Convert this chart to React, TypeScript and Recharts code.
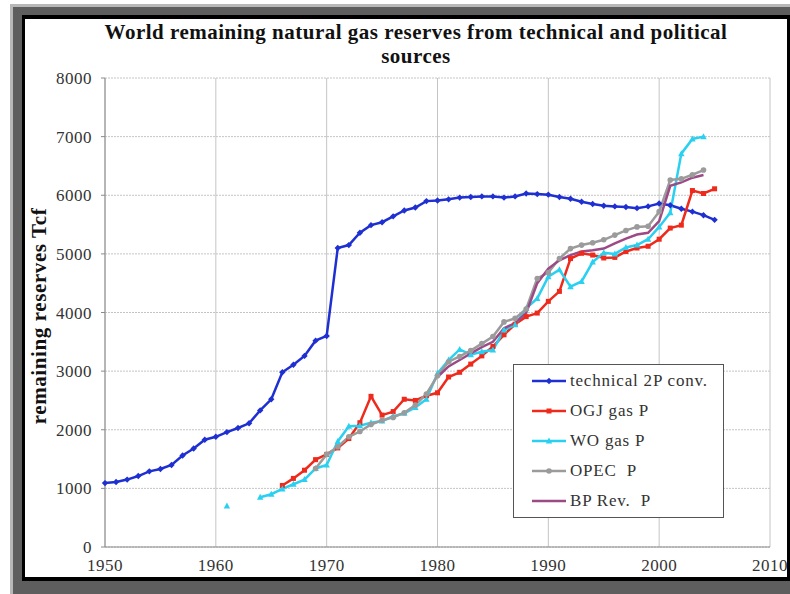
import React from 'react';
import { LineChart, Line, XAxis, YAxis, CartesianGrid } from 'recharts';

const years = [
  1950, 1951, 1952, 1953, 1954, 1955, 1956, 1957, 1958, 1959,
  1960, 1961, 1962, 1963, 1964, 1965, 1966, 1967, 1968, 1969,
  1970, 1971, 1972, 1973, 1974, 1975, 1976, 1977, 1978, 1979,
  1980, 1981, 1982, 1983, 1984, 1985, 1986, 1987, 1988, 1989,
  1990, 1991, 1992, 1993, 1994, 1995, 1996, 1997, 1998, 1999,
  2000, 2001, 2002, 2003, 2004, 2005,
];

const xTicks = [1950, 1960, 1970, 1980, 1990, 2000, 2010];
const yTicks = [0, 1000, 2000, 3000, 4000, 5000, 6000, 7000, 8000];

// technical 2P conventional, 1950-2005
const technical = [
  1090, 1110, 1150, 1210, 1290, 1330, 1400, 1560, 1680, 1830,
  1880, 1960, 2030, 2110, 2330, 2520, 2980, 3110, 3260, 3520,
  3600, 5100, 5150, 5360, 5490, 5540, 5640, 5740, 5790, 5900,
  5910, 5930, 5960, 5970, 5980, 5980, 5960, 5980, 6030, 6020,
  6010, 5970, 5940, 5890, 5850, 5820, 5810, 5800, 5780, 5810,
  5860, 5830, 5770, 5720, 5660, 5580,
];

// Oil & Gas Journal, from 1966
const ogjFrom = 1966;
const ogj = [
  1050, 1170, 1310, 1490,
  1580, 1690, 1850, 2120, 2570, 2250, 2310, 2520, 2500, 2580,
  2630, 2900, 2980, 3120, 3260, 3420, 3620, 3800, 3930, 3990,
  4190, 4360, 4920, 5010, 4980, 4930, 4940, 5040, 5100, 5130,
  5250, 5440, 5490, 6080, 6030, 6110,
];

// World Oil, from 1961 (gap 1962-63)
const woFrom = 1961;
const wo = [
  700, null, null, 850, 900, 990, 1070, 1150, 1340,
  1400, 1800, 2060, 2070, 2120, 2150, 2230, 2280, 2380, 2520,
  2960, 3190, 3370, 3280, 3330, 3360, 3700, 3790, 4070, 4240,
  4610, 4730, 4440, 4530, 4860, 5020, 5000, 5110, 5150, 5250,
  5460, 5700, 6710, 6960, 7000,
];

// OPEC, from 1969
const opecFrom = 1969;
const opec = [
  1340,
  1580, 1710, 1880, 1970, 2090, 2160, 2210, 2290, 2420, 2610,
  2920, 3160, 3250, 3350, 3470, 3590, 3840, 3900, 4060, 4580,
  4680, 4920, 5090, 5150, 5190, 5240, 5320, 5400, 5460, 5470,
  5720, 6260, 6280, 6350, 6430,
];

// BP Statistical Review, from 1980
const bpFrom = 1980;
const bp = [
  2900, 3080, 3190, 3300, 3410, 3500, 3730, 3820, 3990, 4500,
  4750, 4890, 4980, 5040, 5060, 5090, 5180, 5260, 5330, 5360,
  5560, 6160, 6220, 6300, 6345,
];

const pick = (arr: (number | null)[], from: number, year: number) => {
  const v = arr[year - from];
  return v === undefined ? null : v;
};

const data = years.map((year, i) => ({
  year,
  technical: technical[i],
  ogj: pick(ogj, ogjFrom, year),
  wo: pick(wo, woFrom, year),
  opec: pick(opec, opecFrom, year),
  bp: pick(bp, bpFrom, year),
}));

const SERIF = "'Liberation Serif', 'Times New Roman', serif";

const series = [
  { key: 'technical', name: 'technical 2P conv.', color: '#1f30d2', shape: 'diamond' },
  { key: 'ogj', name: 'OGJ gas P', color: '#ee2a1c', shape: 'square' },
  { key: 'wo', name: 'WO gas P', color: '#2ad0f0', shape: 'triangle' },
  { key: 'opec', name: 'OPEC  P', color: '#9b9b9b', shape: 'circle' },
  { key: 'bp', name: 'BP Rev.  P', color: '#9c4a86', shape: 'none' },
];

function markerEl(shape: string, color: string, cx: number, cy: number, key?: any) {
  if (shape === 'diamond')
    return <path key={key} d={`M${cx},${cy - 3.2}L${cx + 3.2},${cy}L${cx},${cy + 3.2}L${cx - 3.2},${cy}Z`} fill={color} />;
  if (shape === 'square')
    return <rect key={key} x={cx - 2.5} y={cy - 2.5} width={5} height={5} fill={color} />;
  if (shape === 'triangle')
    return <path key={key} d={`M${cx},${cy - 3.5}L${cx + 3.2},${cy + 2.5}L${cx - 3.2},${cy + 2.5}Z`} fill={color} />;
  if (shape === 'circle')
    return <circle key={key} cx={cx} cy={cy} r={2.8} fill={color} />;
  return <g key={key} />;
}

const makeDot = (shape: string, color: string) => (props: any) => {
  const { cx, cy, index } = props;
  if (cx == null || cy == null || props.value == null) return <g key={index} />;
  return markerEl(shape, color, cx, cy, index);
};

function LegendBox() {
  return (
    <div
      style={{
        position: 'absolute',
        left: 513,
        top: 364,
        width: 211,
        height: 154,
        boxSizing: 'border-box',
        border: '1.5px solid #555',
        background: '#fff',
        paddingTop: 1,
        fontFamily: SERIF,
        fontSize: 17,
        letterSpacing: 0.8,
        color: '#333',
      }}
    >
      {series.map((s) => (
        <div key={s.key} style={{ display: 'flex', alignItems: 'center', height: 30 }}>
          <svg width={36} height={10} style={{ marginLeft: 18, marginRight: 2 }}>
            <line x1={0} y1={5} x2={34} y2={5} stroke={s.color} strokeWidth={2.5} />
            {markerEl(s.shape, s.color, 17, 5)}
          </svg>
          <span style={{ whiteSpace: 'pre' }}>{s.name}</span>
        </div>
      ))}
    </div>
  );
}

const tickStyle = { fill: '#333', fontSize: 17, fontFamily: SERIF, letterSpacing: 0.5 };

export default function App() {
  return (
    <div
      style={{
        position: 'absolute',
        left: 0,
        top: 0,
        width: 790,
        height: 594,
        background: '#fff',
        overflow: 'hidden',
      }}
    >
      <LineChart
        width={790}
        height={594}
        data={data}
        margin={{ top: 78, right: 20, bottom: 0, left: 0 }}
      >
        <CartesianGrid horizontal={false} stroke="#c4c4c4" />
        <CartesianGrid vertical={false} stroke="#c4c4c4" strokeDasharray="2 1" />
        <XAxis
          dataKey="year"
          type="number"
          domain={[1950, 2010]}
          ticks={xTicks}
          height={47}
          axisLine={{ stroke: '#8a8a8a' }}
          tickLine={false}
          tickSize={4}
          tickMargin={8}
          tick={tickStyle}
        />
        <YAxis
          type="number"
          domain={[0, 8000]}
          ticks={yTicks}
          width={105}
          axisLine={{ stroke: '#8a8a8a' }}
          tickLine={{ stroke: '#8a8a8a' }}
          tickSize={4}
          tickMargin={9}
          tick={tickStyle}
        />
        {series.map((s) => (
          <Line
            key={s.key}
            dataKey={s.key}
            name={s.name}
            type="linear"
            stroke={s.color}
            strokeWidth={2.5}
            dot={s.shape === 'none' ? false : makeDot(s.shape, s.color)}
            activeDot={false}
            connectNulls={false}
            isAnimationActive={false}
          />
        ))}
      </LineChart>

      <LegendBox />

      <div
        style={{
          position: 'absolute',
          left: 0,
          top: 20,
          width: 832,
          textAlign: 'center',
          fontFamily: SERIF,
          fontWeight: 'bold',
          fontSize: 21,
          letterSpacing: 0.5,
          lineHeight: '24px',
          color: '#111',
        }}
      >
        World remaining natural gas reserves from technical and political
        <br />
        sources
      </div>

      <div
        style={{
          position: 'absolute',
          left: 39,
          top: 316,
          transform: 'translate(-50%, -50%) rotate(-90deg)',
          whiteSpace: 'nowrap',
          fontFamily: SERIF,
          fontWeight: 'bold',
          fontSize: 21,
          letterSpacing: 0.6,
          color: '#111',
        }}
      >
        remaining reserves Tcf
      </div>

      {/* picture frame */}
      <div style={{ position: 'absolute', left: 10, top: 4, width: 780, height: 3, background: '#b8b8b8' }} />
      <div style={{ position: 'absolute', left: 10, top: 4, width: 3, height: 590, background: '#b8b8b8' }} />
      <div style={{ position: 'absolute', left: 13, top: 7, width: 777, height: 8, background: '#5e5e5e' }} />
      <div style={{ position: 'absolute', left: 13, top: 7, width: 9, height: 587, background: '#5e5e5e' }} />
      <div style={{ position: 'absolute', left: 22, top: 15, width: 768, height: 4, background: '#000' }} />
      <div style={{ position: 'absolute', left: 22, top: 15, width: 3, height: 579, background: '#000' }} />
      <div style={{ position: 'absolute', left: 22, top: 577, width: 768, height: 4, background: '#000' }} />
      <div style={{ position: 'absolute', left: 13, top: 581, width: 777, height: 13, background: '#5e5e5e' }} />
      <div style={{ position: 'absolute', left: 787, top: 15, width: 3, height: 566, background: '#000' }} />
    </div>
  );
}
